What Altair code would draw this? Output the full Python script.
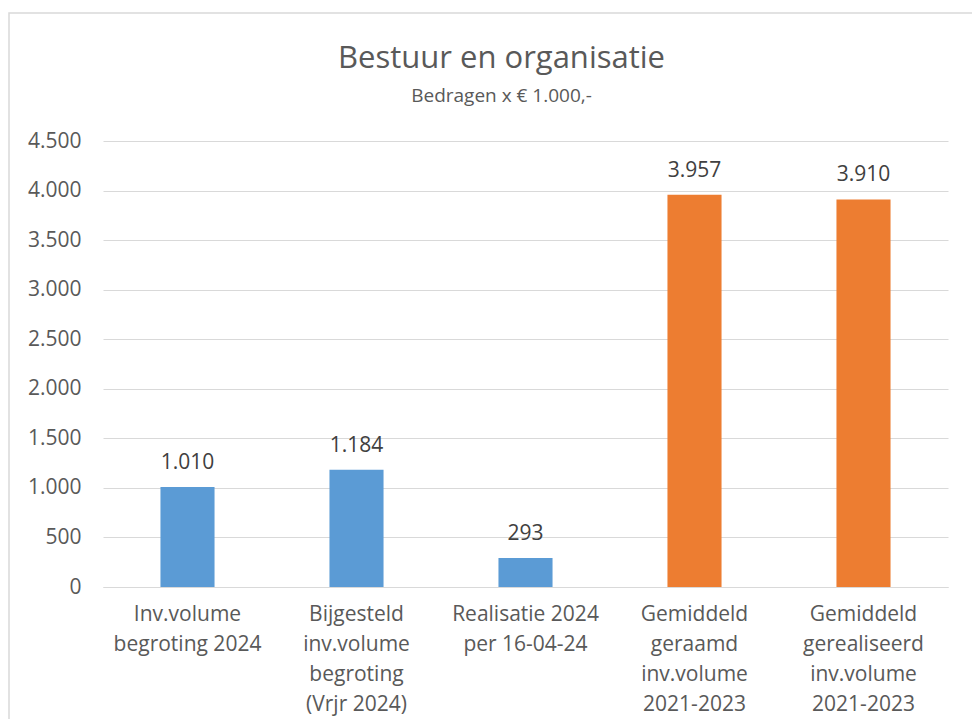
import altair as alt
import pandas as pd

categories = [
    "Inv.volume|begroting 2024",
    "Bijgesteld|inv.volume|begroting|(Vrjr 2024)",
    "Realisatie 2024|per 16-04-24",
    "Gemiddeld|geraamd|inv.volume|2021-2023",
    "Gemiddeld|gerealiseerd|inv.volume|2021-2023",
]
values = [1010, 1184, 293, 3957, 3910]
groups = ["2024", "2024", "2024", "gemiddeld", "gemiddeld"]
y_ticks = [0, 500, 1000, 1500, 2000, 2500, 3000, 3500, 4000, 4500]

df = pd.DataFrame({"cat": categories, "value": values, "group": groups})

FONT = "Open Sans"
GREY = "#595959"
GRID = "#d9d9d9"

x = alt.X(
    "cat:N",
    sort=categories,
    scale=alt.Scale(paddingInner=0.68, paddingOuter=0.34),
    axis=alt.Axis(
        title=None, labelAngle=0, labelExpr="split(datum.label, '|')",
        labelFontSize=21, labelColor=GREY, labelFont=FONT, labelLineHeight=30.3,
        labelPadding=16, ticks=False, domainColor=GRID, labelLimit=300,
    ),
)
y = alt.Y(
    "value:Q",
    scale=alt.Scale(domain=[0, 4500], nice=False),
    axis=alt.Axis(
        title=None, values=y_ticks,
        labelExpr="replace(format(datum.value, ','), ',', '.')",
        grid=True, gridColor=GRID, domain=False, ticks=False,
        labelPadding=22, labelFontSize=21, labelColor=GREY, labelFont=FONT,
    ),
)

base = alt.Chart(df)

frame = alt.Chart(alt.Data(values=[{}])).mark_rect(
    fill="transparent", stroke=GRID, strokeWidth=1.5
).encode(
    x=alt.value(-94), x2=alt.value(900), y=alt.value(-128), y2=alt.value(700)
)

bars = base.mark_bar().encode(
    x=x, y=y,
    color=alt.Color("group:N", scale=alt.Scale(domain=["2024", "gemiddeld"],
                                               range=["#5b9bd5", "#ed7d31"]),
                    legend=None),
)

labels = base.transform_calculate(
    lbl="replace(format(datum.value, ','), ',', '.')"
).mark_text(
    baseline="alphabetic", dy=-18, fontSize=21, color="#404040", font=FONT
).encode(x=x, y=y, text="lbl:N")

chart = alt.layer(frame, bars, labels).properties(
    width=845,
    height=446,
    autosize=alt.AutoSizeParams(type="none"),
    padding={"left": 95, "top": 133, "right": 24, "bottom": 132},
    background="white",
    title=alt.TitleParams(
        text="Bestuur en organisatie",
        subtitle="Bedragen x € 1.000,-",
        fontSize=31, fontWeight="normal", color=GREY, font=FONT,
        subtitleFontSize=19, subtitleColor=GREY, subtitleFont=FONT,
        anchor="middle", frame="group", offset=-95, dx=-24, subtitlePadding=12,
    ),
).configure_view(stroke=None)

chart.save("out.html", embed_options={"renderer": "svg", "actions": False})
